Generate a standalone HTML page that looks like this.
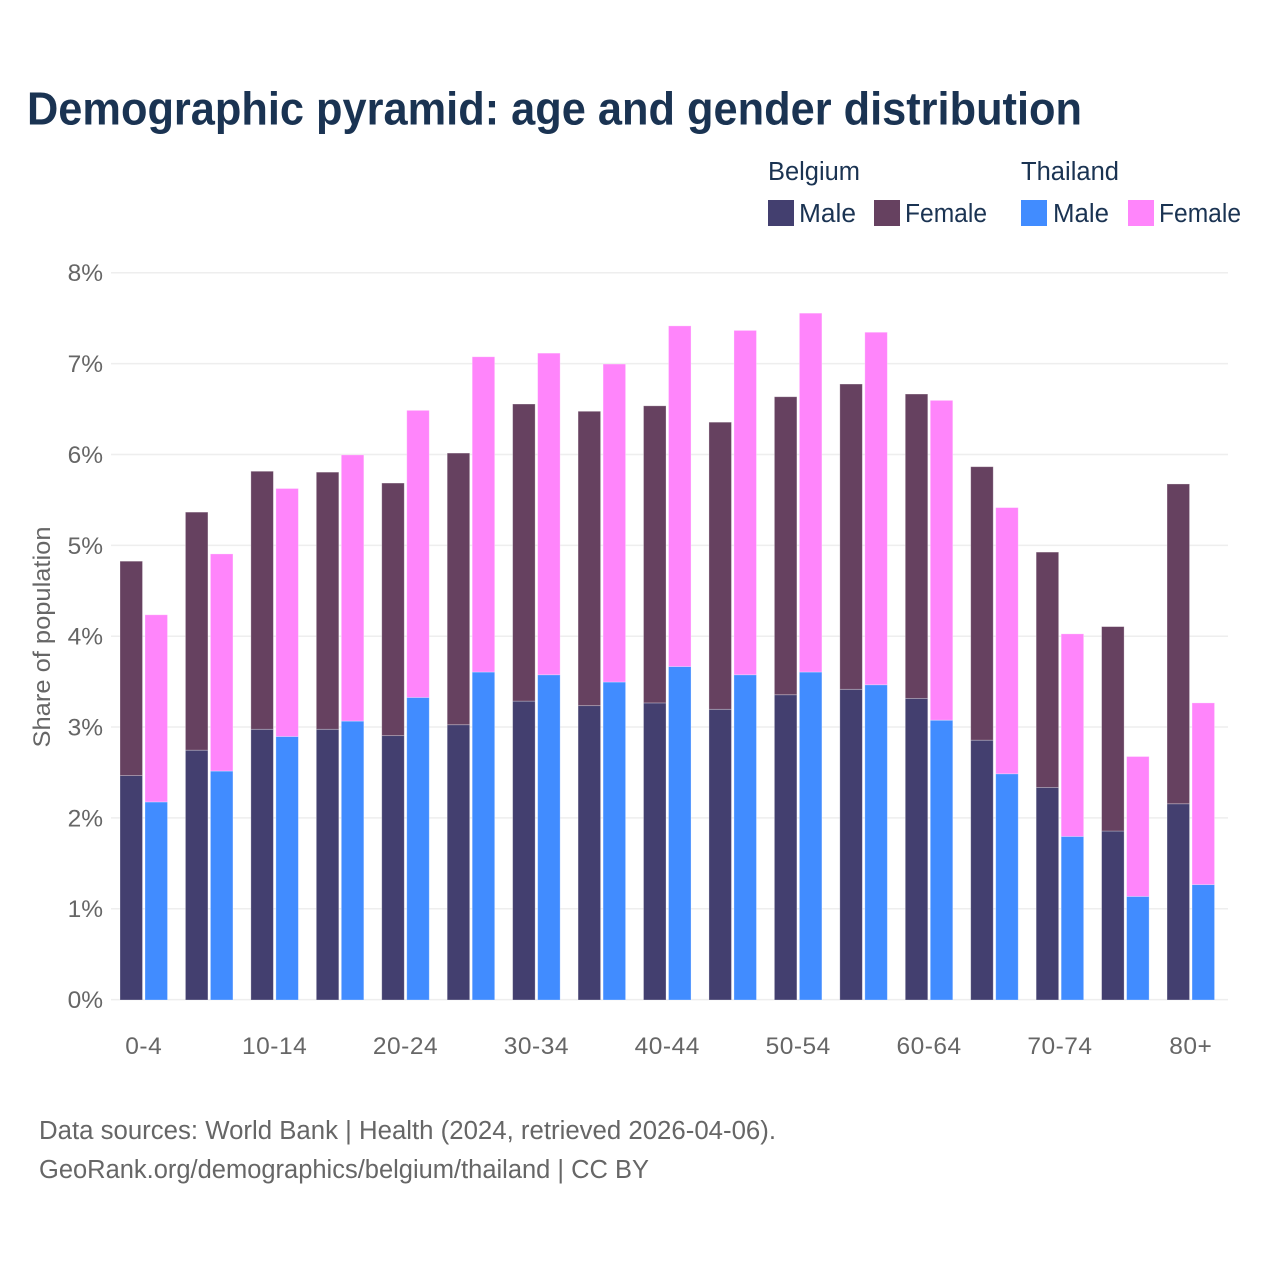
<!DOCTYPE html>
<html lang="en">
<head>
<meta charset="utf-8">
<title>Demographic pyramid: age and gender distribution</title>
<style>
html,body{margin:0;padding:0;background:#fff;}
svg{display:block;font-family:"Liberation Sans",sans-serif;}
</style>
</head>
<body>
<svg id="chart" xmlns="http://www.w3.org/2000/svg" width="1280" height="1280" viewBox="0 0 1280 1280">
  <rect x="0" y="0" width="1280" height="1280" fill="#ffffff"/>
  <text x="27" y="124.5" font-size="46" font-weight="700" fill="#1a3352" textLength="1055" lengthAdjust="spacingAndGlyphs">Demographic pyramid: age and gender distribution</text>

  <g font-size="25.5" fill="#1a3352">
    <text x="768" y="180" textLength="92" lengthAdjust="spacingAndGlyphs">Belgium</text>
    <text x="1021" y="180" textLength="98" lengthAdjust="spacingAndGlyphs">Thailand</text>
    <rect x="768" y="200" width="26" height="26" fill="#433f6f"/>
    <text x="799" y="222" textLength="57" lengthAdjust="spacingAndGlyphs">Male</text>
    <rect x="874" y="200" width="26" height="26" fill="#664160"/>
    <text x="905" y="222" textLength="82" lengthAdjust="spacingAndGlyphs">Female</text>
    <rect x="1021" y="200" width="26" height="26" fill="#418cff"/>
    <text x="1053" y="222" textLength="56" lengthAdjust="spacingAndGlyphs">Male</text>
    <rect x="1128" y="200" width="26" height="26" fill="#ff85fb"/>
    <text x="1159" y="222" textLength="82" lengthAdjust="spacingAndGlyphs">Female</text>
  </g>

  <g id="grid"></g>
  <g id="bars"></g>
  <g id="yticks"></g>
  <g id="xticks"></g>

  <text transform="translate(50,637) rotate(-90)" text-anchor="middle" font-size="24.5" fill="#666666" textLength="221" lengthAdjust="spacingAndGlyphs">Share of population</text>

  <text x="39" y="1139" font-size="25.5" fill="#666666" textLength="737" lengthAdjust="spacingAndGlyphs">Data sources: World Bank | Health (2024, retrieved 2026-04-06).</text>
  <text x="39" y="1178" font-size="25.5" fill="#666666" textLength="610" lengthAdjust="spacingAndGlyphs">GeoRank.org/demographics/belgium/thailand | CC BY</text>
</svg>
<script>
const categories = ["0-4","5-9","10-14","15-19","20-24","25-29","30-34","35-39","40-44","45-49","50-54","55-59","60-64","65-69","70-74","75-79","80+"];
const xTickLabels = ["0-4","10-14","20-24","30-34","40-44","50-54","60-64","70-74","80+"];
const yTickValues = [0,1,2,3,4,5,6,7,8];
const belgiumMale = [2.47,2.75,2.98,2.98,2.91,3.03,3.29,3.24,3.27,3.20,3.36,3.42,3.32,2.86,2.34,1.86,2.16];
const belgiumFemale = [2.36,2.62,2.84,2.83,2.78,2.99,3.27,3.24,3.27,3.16,3.28,3.36,3.35,3.01,2.59,2.25,3.52];
const thailandMale = [2.18,2.52,2.90,3.07,3.33,3.61,3.58,3.50,3.67,3.58,3.61,3.47,3.08,2.49,1.80,1.14,1.27];
const thailandFemale = [2.06,2.39,2.73,2.93,3.16,3.47,3.54,3.50,3.75,3.79,3.95,3.88,3.52,2.93,2.23,1.54,2.00];

const NS = "http://www.w3.org/2000/svg";
const plotLeft = 111, plotRight = 1228, baseY = 1000, unitY = 90.85;
const firstBarX = 120, groupStep = 65.44, barW = 22.5, barGap = 25;

function yScale(v) { return baseY - v * unitY; }
function xScale(i, seriesIdx) { return firstBarX + i * groupStep + seriesIdx * barGap; }
function groupCenter(i) { return xScale(i, 0) + (barGap + barW) / 2; }

function makeEl(tag, attrs, parent) {
  const el = document.createElementNS(NS, tag);
  for (const k in attrs) el.setAttribute(k, attrs[k]);
  parent.appendChild(el);
  return el;
}

const gridG = document.getElementById("grid");
const yG = document.getElementById("yticks");
yTickValues.forEach(function (v) {
  const line = makeEl("line", {x1: plotLeft, x2: plotRight, y1: yScale(v) - 0.4, y2: yScale(v) - 0.4, stroke: "#eeeeee", "stroke-width": 1.5}, gridG);
  
  
  const t = makeEl("text", {x: 103, y: yScale(v) + 8, "text-anchor": "end", "font-size": 24.5, fill: "#666666"}, yG);
  
  
  t.textContent = v + "%";
});

const barsG = document.getElementById("bars");
function drawSegment(i, seriesIdx, bottom, value, fill, edge) {
  const top = yScale(bottom + value);
  const rect = makeEl("rect", {
    x: xScale(i, seriesIdx), y: top, width: barW, height: yScale(bottom) - top,
    fill: fill, stroke: edge, "stroke-width": 0.8
  }, barsG);
  
  
}
categories.forEach(function (cat, i) {
  drawSegment(i, 0, 0, belgiumMale[i], "#433f6f", "rgba(255,255,255,0.35)");
  drawSegment(i, 0, belgiumMale[i], belgiumFemale[i], "#664160", "rgba(255,255,255,0.35)");
  drawSegment(i, 1, 0, thailandMale[i], "#418cff", "rgba(255,255,255,0.35)");
  drawSegment(i, 1, thailandMale[i], thailandFemale[i], "#ff85fb", "rgba(255,255,255,0.35)");
});

const xG = document.getElementById("xticks");
xTickLabels.forEach(function (label) {
  const i = categories.indexOf(label);
  const t = makeEl("text", {x: groupCenter(i), y: 1054, "text-anchor": "middle", "font-size": 24.5, "letter-spacing": 0.5, fill: "#666666"}, xG);
  
  
  t.textContent = label;
});
</script>
</body>
</html>
